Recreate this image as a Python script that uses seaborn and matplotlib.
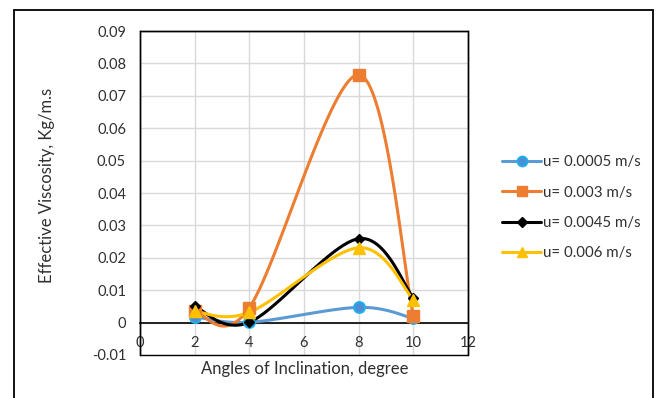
import numpy as np
import pandas as pd
import matplotlib
matplotlib.use("Agg")
import matplotlib.pyplot as plt
from matplotlib.lines import Line2D
from matplotlib.patches import Rectangle
import seaborn as sns

# ---- data ----
angles = [2, 4, 8, 10]
u_0005 = [0.0018, 0.0001, 0.0047, 0.0013]
u_003 = [0.0035, 0.0046, 0.0765, 0.0021]
u_0045 = [0.0050, 0.0001, 0.0259, 0.0077]
u_006 = [0.0035, 0.0032, 0.0231, 0.0071]
series_labels = ["u= 0.0005 m/s", "u= 0.003 m/s", "u= 0.0045 m/s", "u= 0.006 m/s"]
x_ticks = [0, 2, 4, 6, 8, 10, 12]
y_ticks = [-0.01, 0, 0.01, 0.02, 0.03, 0.04, 0.05, 0.06, 0.07, 0.08, 0.09]
y_tick_labels = ["-0.01", "0", "0.01", "0.02", "0.03", "0.04", "0.05", "0.06", "0.07", "0.08", "0.09"]
x_label = "Angles of Inclination, degree"
y_label = "Effective Viscosity, Kg/m.s"

sns.set_style("white")
plt.rcParams["font.family"] = ["Lato", "DejaVu Sans"]
plt.rcParams["font.size"] = 10

TXT = "#303030"
W, H = 663, 398
fig = plt.figure(figsize=(W / 100, H / 100), dpi=100)
L, R, T, B = 140, 468, 31, 355
ax = fig.add_axes([L / W, 1 - B / H, (R - L) / W, (B - T) / H])


def smooth(x, y, n=40):
    pts = np.column_stack([x, y]).astype(float)
    P = np.vstack([pts[0], pts, pts[-1]])
    out = []
    t = np.linspace(0, 1, n)[:, None]
    for i in range(len(pts) - 1):
        p0, p1, p2, p3 = P[i], P[i + 1], P[i + 2], P[i + 3]
        c1 = p1 + (p2 - p0) / 6
        c2 = p2 - (p3 - p1) / 6
        seg = ((1 - t) ** 3) * p1 + 3 * ((1 - t) ** 2) * t * c1 + 3 * (1 - t) * t ** 2 * c2 + t ** 3 * p2
        out.append(seg if i == 0 else seg[1:])
    s = np.vstack(out)
    return s[:, 0], s[:, 1]


styles = [
    dict(color="#5B9BD5", marker="o", ms=8, mfc="#4A8FD6", mec="#1FB1EC", mew=1.3),
    dict(color="#ED7D31", marker="s", ms=8, mfc="#ED7D31", mec="#ED7D31", mew=1),
    dict(color="#000000", marker="D", ms=5.5, mfc="#000000", mec="#000000", mew=1),
    dict(color="#FFC000", marker="^", ms=8.5, mfc="#FFC000", mec="#FFC000", mew=1),
]
all_series = [u_0005, u_003, u_0045, u_006]

handles = []
for vals, st, lab in zip(all_series, styles, series_labels):
    sx, sy = smooth(angles, vals)
    sns.lineplot(x=sx, y=sy, ax=ax, color=st["color"], lw=2.2, sort=False,
                 estimator=None, zorder=3)
    ax.plot(angles, vals, ls="none", marker=st["marker"], ms=st["ms"],
            mfc=st["mfc"], mec=st["mec"], mew=st["mew"], zorder=4)
    handles.append(Line2D([0], [0], color=st["color"], lw=2.2, marker=st["marker"],
                          ms=st["ms"] * 0.9, mfc=st["mfc"], mec=st["mec"], mew=st["mew"]))

ax.set_xlim(0, 12)
ax.set_ylim(-0.01, 0.09)
ax.set_xticks(x_ticks)
ax.set_yticks(y_ticks)
ax.set_yticklabels(y_tick_labels)
ax.grid(True, color="#D9D9D9", lw=1)
ax.set_axisbelow(True)

for s in ["top", "right", "left"]:
    ax.spines[s].set_color("black")
    ax.spines[s].set_linewidth(1)
ax.spines["bottom"].set_position(("data", 0))
ax.spines["bottom"].set_color("black")
ax.spines["bottom"].set_linewidth(1.2)
ax.add_patch(Rectangle((0, 0), 1, 1, transform=ax.transAxes, fill=False,
                       ec="black", lw=1, clip_on=False, zorder=5))

ax.tick_params(axis="x", length=0, pad=10, labelsize=10.5, colors=TXT)
ax.tick_params(axis="y", length=0, pad=10, labelsize=10.5, colors=TXT)

ax.set_xlabel("")
ax.set_ylabel("")
fig.text(305 / W, 1 - 369 / H, x_label, ha="center", va="center", fontsize=12, color=TXT)
fig.text(47 / W, 1 - 185 / H, y_label, ha="center", va="center", rotation=90,
         fontsize=12, color=TXT)

fig.legend(handles=handles, labels=series_labels, loc="upper left",
           bbox_to_anchor=(502 / W, 1 - 155 / H), bbox_transform=fig.transFigure,
           frameon=False, handlelength=2.6, handletextpad=0.15, labelspacing=1.1,
           borderpad=0, borderaxespad=0, fontsize=10.8, labelcolor=TXT)

fig.add_artist(Rectangle((14 / W, -0.1), 639 / W, 1.1 - 10 / H, transform=fig.transFigure,
                         fill=False, ec="black", lw=1.3))

fig.savefig("out.png", dpi=100)
